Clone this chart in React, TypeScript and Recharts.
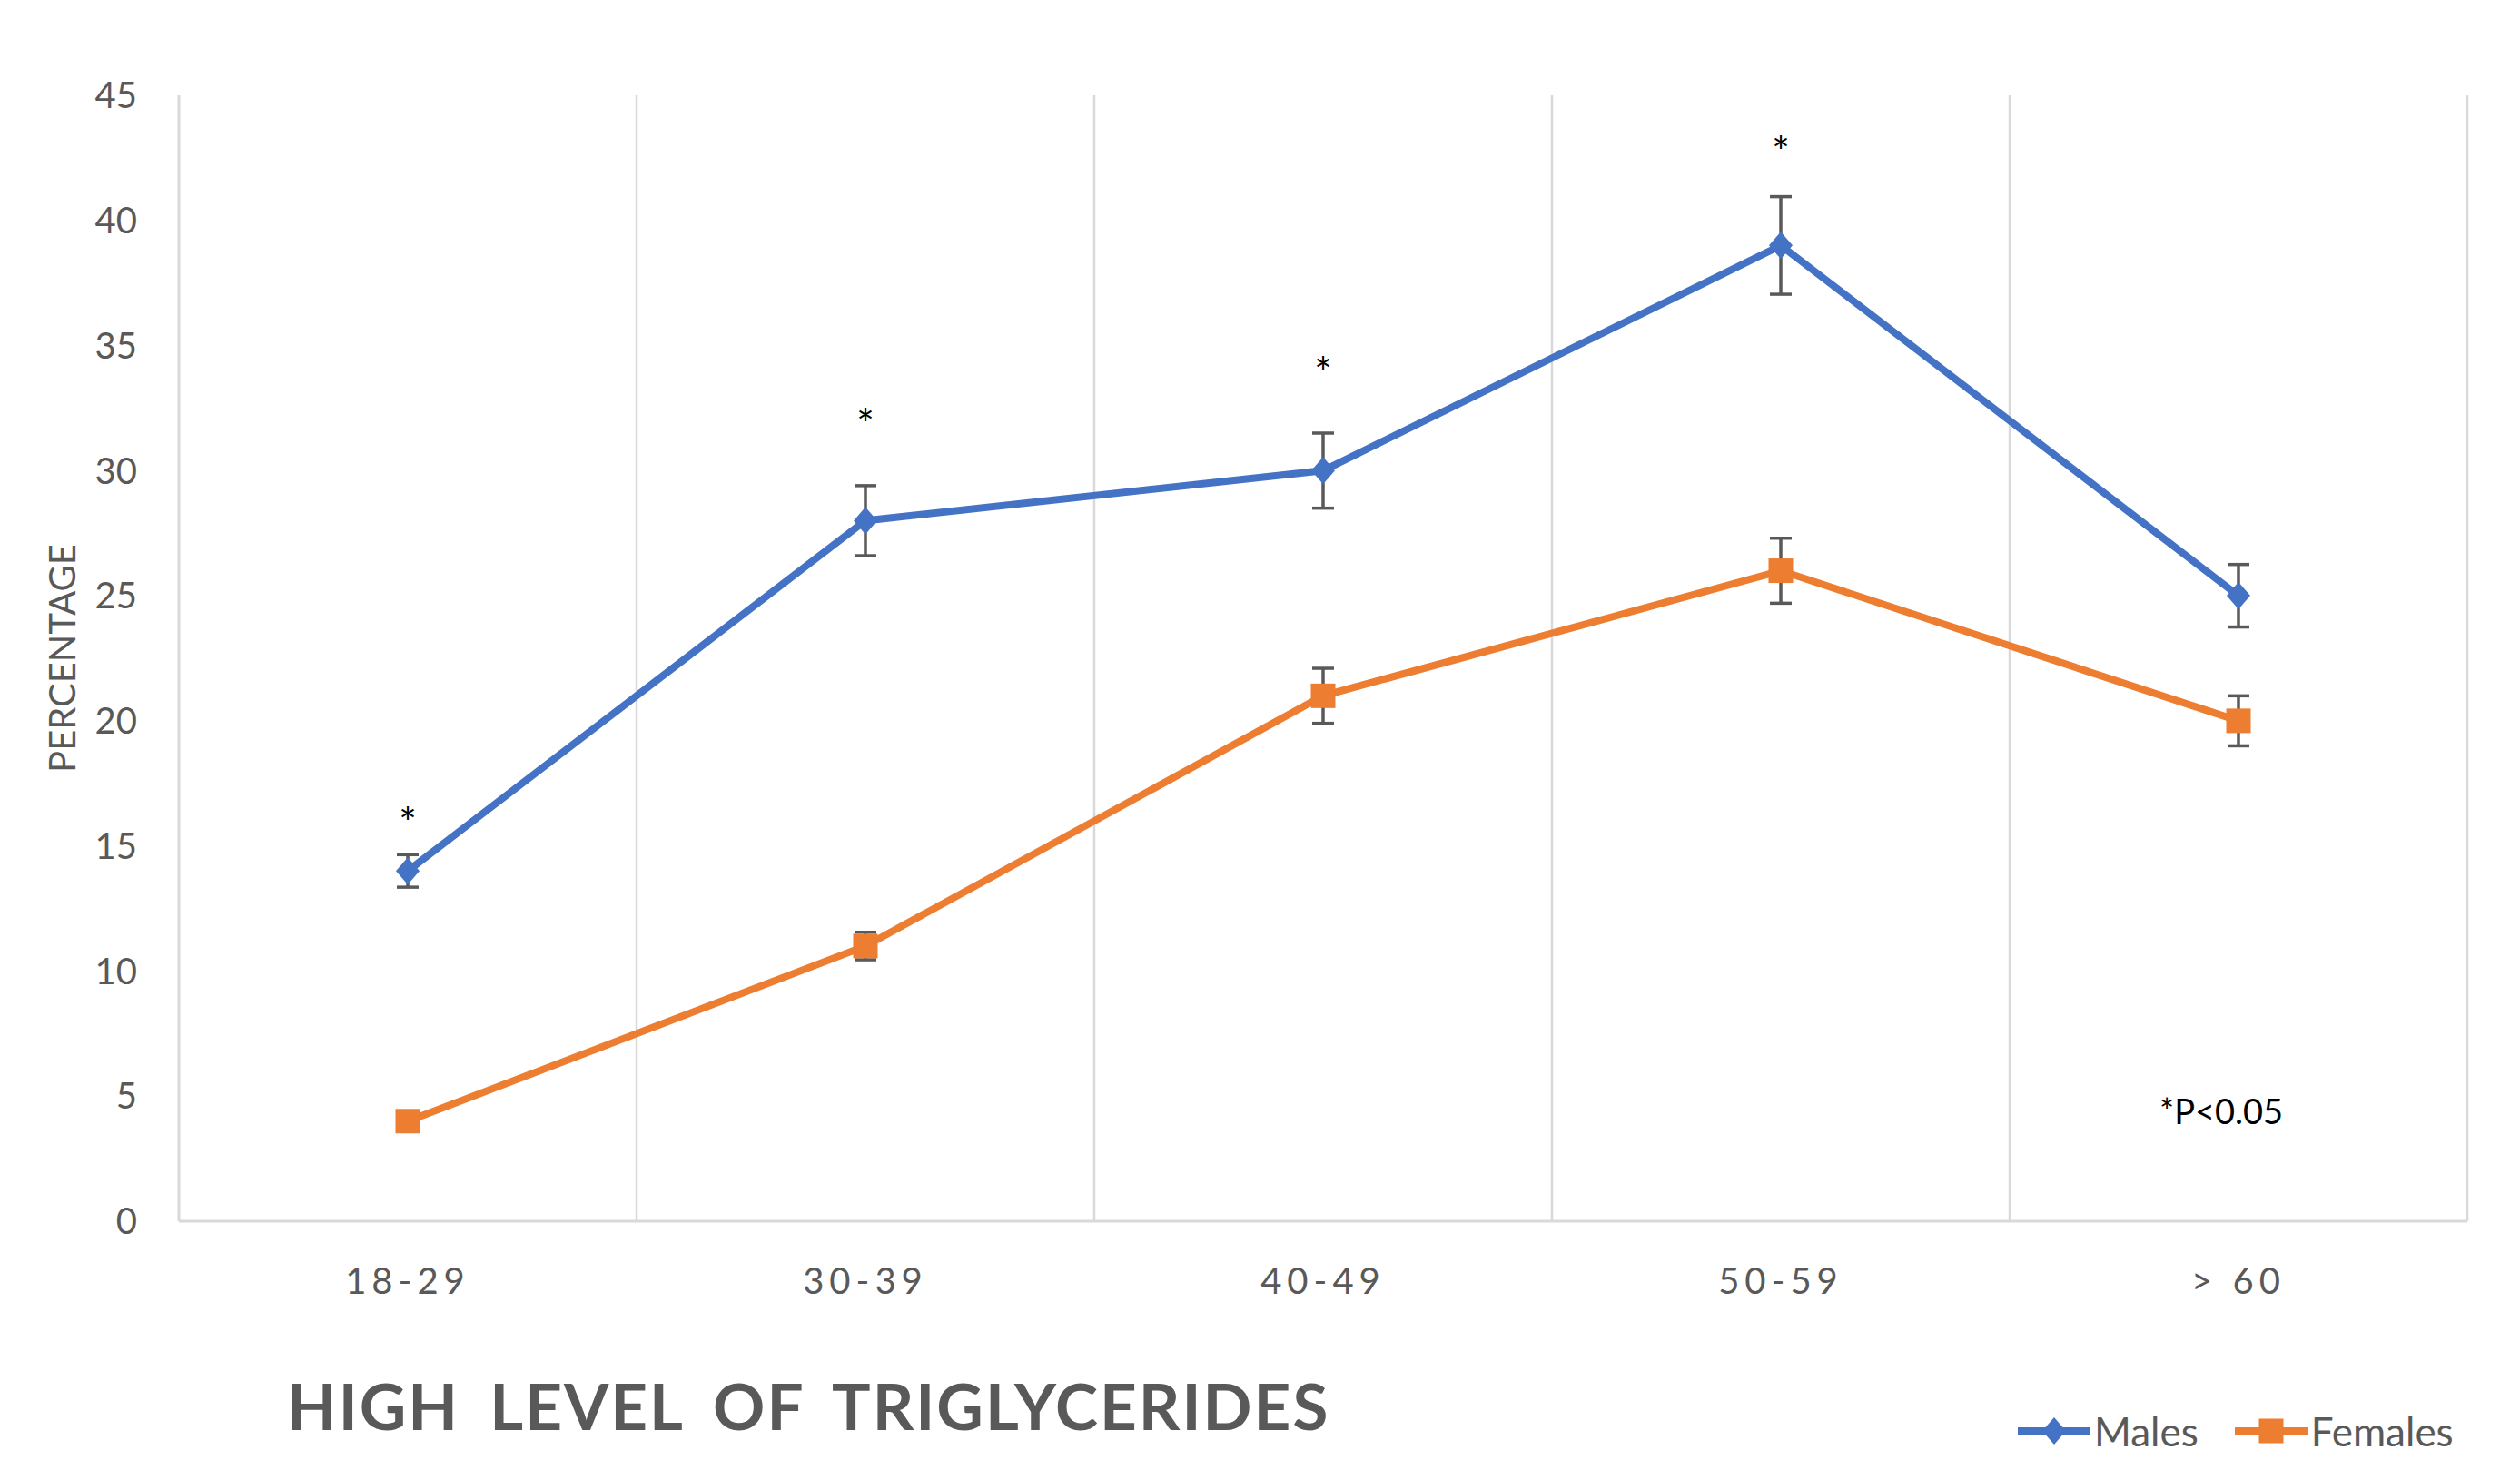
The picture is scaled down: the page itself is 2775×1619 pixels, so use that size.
import React from "react";
import {
  ComposedChart,
  Line,
  XAxis,
  YAxis,
  ErrorBar,
  ReferenceLine,
  Legend,
  Label,
} from "recharts";

const ageGroups = ["18-29", "30-39", "40-49", "50-59", "> 60"];
const males = [14, 28, 30, 39, 25];
const malesErr = [0.65, 1.4, 1.5, 1.95, 1.25];
const females = [4, 11, 21, 26, 20];
const femalesErr = [0, 0.55, 1.1, 1.3, 1.0];
// where the significance asterisks sit (null = not significant)
const starLevels = [16.2, 32.1, 34.2, 43.0, null];
const yTicks = [0, 5, 10, 15, 20, 25, 30, 35, 40, 45];
const legendOrder = ["males", "females"];

const BLUE = "#4472C4";
const ORANGE = "#ED7D31";
const GRID = "#D9D9D9";
const TEXT = "#595959";
const FONT = "Lato, 'Open Sans', sans-serif";

const data = ageGroups.map((age, i) => ({
  idx: i,
  age,
  males: males[i],
  malesErr: malesErr[i],
  females: females[i],
  femalesErr: femalesErr[i],
  star: starLevels[i],
}));

const Diamond = ({ cx, cy, fill, w = 13, h = 15 }: any) => (
  <polygon
    points={`${cx},${cy - h} ${cx + w},${cy} ${cx},${cy + h} ${cx - w},${cy}`}
    fill={fill}
  />
);

const Square = ({ cx, cy, fill, s = 27 }: any) => (
  <rect x={cx - s / 2} y={cy - s / 2} width={s} height={s} fill={fill} />
);

const renderMaleDot = (p: any) => (
  <Diamond key={`m-${p.index}`} cx={p.cx} cy={p.cy} fill={BLUE} />
);
const renderFemaleDot = (p: any) => (
  <Square key={`f-${p.index}`} cx={p.cx} cy={p.cy} fill={ORANGE} />
);
const renderStar = (p: any) => {
  if (p.value == null || p.cy == null) return <g key={`s-${p.index}`} />;
  return (
    <text
      key={`s-${p.index}`}
      x={p.cx}
      y={p.cy + 24}
      textAnchor="middle"
      fontSize={46}
      fontFamily={FONT}
      fill="#000"
    >
      *
    </text>
  );
};

const renderLegend = ({ payload }: any) => {
  const items = (payload || [])
    .filter((e: any) => legendOrder.includes(e.dataKey))
    .sort(
      (a: any, b: any) =>
        legendOrder.indexOf(a.dataKey) - legendOrder.indexOf(b.dataKey)
    );
  return (
    <div style={{ display: "flex", alignItems: "center", gap: 40 }}>
      {items.map((entry: any) => (
        <div
          key={entry.value}
          style={{ display: "flex", alignItems: "center", gap: 4 }}
        >
          <svg width={80} height={32}>
            <line x1={0} y1={16} x2={80} y2={16} stroke={entry.color} strokeWidth={8} />
            {entry.dataKey === "males" ? (
              <Diamond cx={40} cy={16} fill={entry.color} />
            ) : (
              <Square cx={40} cy={16} fill={entry.color} />
            )}
          </svg>
          <span style={{ fontFamily: FONT, fontSize: 44, color: TEXT }}>
            {entry.value}
          </span>
        </div>
      ))}
    </div>
  );
};

export default function App() {
  return (
    <div
      style={{
        position: "absolute",
        left: 0,
        top: 0,
        width: 2775,
        height: 1619,
        background: "#fff",
      }}
    >
      <ComposedChart
        width={2775}
        height={1619}
        data={data}
        margin={{ top: 105, right: 58, bottom: 142, left: 0 }}
      >
        <XAxis
          dataKey="idx"
          type="number"
          domain={[-0.5, 4.5]}
          ticks={[0, 1, 2, 3, 4]}
          tickFormatter={(v: number) => ageGroups[v]}
          stroke={GRID}
          strokeWidth={3}
          tickLine={false}
          tickSize={0}
          tickMargin={52}
          height={80}
          tick={{ fill: TEXT, fontSize: 40, fontFamily: FONT, letterSpacing: 6 }}
        />
        <YAxis
          domain={[0, 45]}
          ticks={yTicks}
          width={197}
          stroke={GRID}
          strokeWidth={3}
          tickLine={false}
          tickSize={0}
          tickMargin={46}
          tick={{ fill: TEXT, fontSize: 40, fontFamily: FONT }}
        >
          <Label
            content={({ viewBox }: any) => {
              const cy = viewBox.y + viewBox.height / 2;
              return (
                <text
                  x={68}
                  y={cy}
                  transform={`rotate(-90, 68, ${cy})`}
                  textAnchor="middle"
                  dominantBaseline="central"
                  fontSize={40}
                  fontFamily={FONT}
                  fill={TEXT}
                >
                  PERCENTAGE
                </text>
              );
            }}
          />
        </YAxis>
        {[0.5, 1.5, 2.5, 3.5, 4.5].map((x) => (
          <ReferenceLine key={x} x={x} stroke={GRID} strokeWidth={2.5} />
        ))}
        <Line
          dataKey="males"
          name="Males"
          stroke={BLUE}
          strokeWidth={8}
          dot={renderMaleDot}
          activeDot={false}
          isAnimationActive={false}
        >
          <ErrorBar
            dataKey="malesErr"
            direction="y"
            width={12}
            stroke={TEXT}
            strokeWidth={3.5}
          />
        </Line>
        <Line
          dataKey="females"
          name="Females"
          stroke={ORANGE}
          strokeWidth={8}
          dot={renderFemaleDot}
          activeDot={false}
          isAnimationActive={false}
        >
          <ErrorBar
            dataKey="femalesErr"
            direction="y"
            width={12}
            stroke={TEXT}
            strokeWidth={3.5}
          />
        </Line>
        <Line
          dataKey="star"
          stroke="none"
          dot={renderStar}
          activeDot={false}
          legendType="none"
          isAnimationActive={false}
        />
        <Legend
          content={renderLegend}
          verticalAlign="bottom"
          wrapperStyle={{ left: 2222, top: 1550, width: 553, bottom: "auto" }}
        />
      </ComposedChart>
      <div
        style={{
          position: "absolute",
          left: 316,
          top: 1512,
          fontFamily: FONT,
          fontWeight: 700,
          fontSize: 71,
          lineHeight: 1,
          color: TEXT,
          letterSpacing: 2,
          wordSpacing: 14,
          whiteSpace: "nowrap",
        }}
      >
        HIGH LEVEL OF TRIGLYCERIDES
      </div>
      <div
        style={{
          position: "absolute",
          left: 2378,
          top: 1204,
          fontFamily: FONT,
          fontSize: 38,
          lineHeight: 1,
          color: "#000",
          whiteSpace: "nowrap",
        }}
      >
        *P&lt;0.05
      </div>
    </div>
  );
}
